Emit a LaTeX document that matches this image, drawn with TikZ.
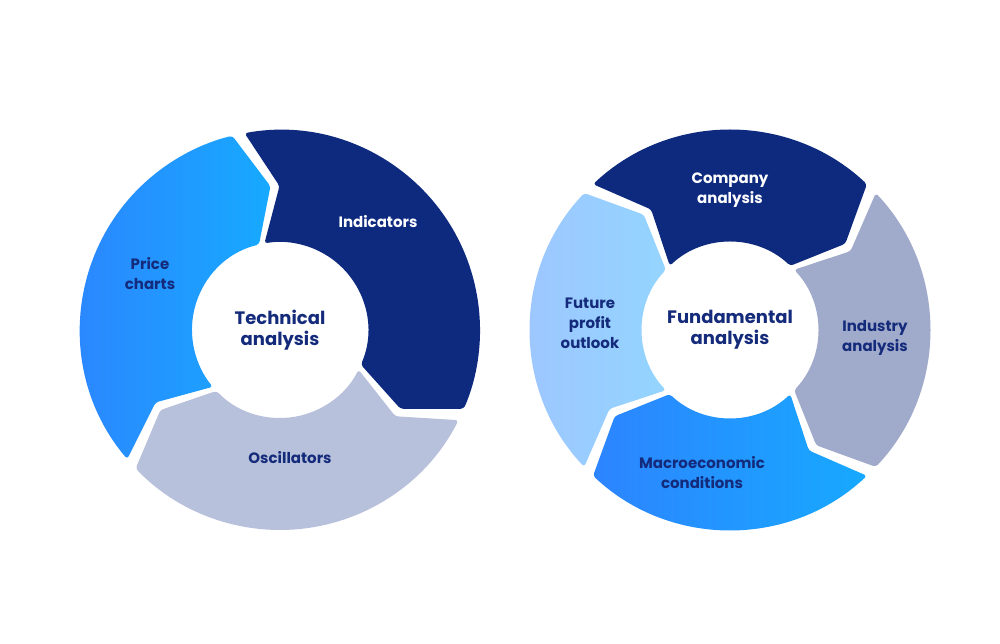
\documentclass[tikz,border=0pt]{standalone}
\usepackage{fontspec}
\setmainfont{Poppins}
\definecolor{navy}{HTML}{0D2A7F}
\definecolor{inkBlue}{HTML}{142A7A}
\definecolor{greyBlue}{HTML}{B8C1DB}
\definecolor{slateBlue}{HTML}{A0AACB}
\definecolor{skyA}{HTML}{2D84FF}
\definecolor{skyB}{HTML}{17A9FF}
\definecolor{paleA}{HTML}{9FC5FF}
\definecolor{paleB}{HTML}{93D5FF}
\tikzset{
  seglabel/.style={font=\bfseries\fontsize{15}{20}\selectfont,align=center,text=inkBlue},
  hublabel/.style={font=\bfseries\fontsize{18}{21}\selectfont,align=center,text=inkBlue}
}
% one ring piece: centre, start angle, end angle (clockwise)
\newcommand\ringpiece[4]{%
  \pgfmathsetmacro\aS{#2-\gapA}
  \pgfmathsetmacro\aE{#3+\gapA}
  \pgfmathsetmacro\aT{\aE-\tipA}
  \pgfmathsetmacro\aN{\aS-\tipA}
  \path[#4,rounded corners=3pt,shift={#1}]
    (\aS:\rOut) arc[start angle=\aS,end angle=\aE,radius=\rOut]
    -- (\aT:\rMid) -- (\aE:\rIn)
    arc[start angle=\aE,end angle=\aS,radius=\rIn]
    -- (\aN:\rMid) -- cycle;
}
\begin{document}
\begin{tikzpicture}[x=1pt,y=1pt]
  \useasboundingbox (0,0) rectangle (1000,644);
  \def\rOut{200}
  \def\rIn{88}
  \def\rMid{144}
  \def\gapA{1.8}
  \def\tipA{10}

  % technical ring
  \coordinate (tech) at (280,314);
  \ringpiece{(tech)}{102}{-25}{fill=navy}
  \ringpiece{(tech)}{-25}{-138}{fill=greyBlue}
  \ringpiece{(tech)}{222}{102}{left color=skyA,right color=skyB}
  \node[hublabel] (techhub) at (tech) {Technical\\analysis};
  \node[seglabel,text=white] (indic) at (378,422) {Indicators};
  \node[seglabel] (price) at (150,370) {Price\\charts};
  \node[seglabel] (oscil) at (290,186) {Oscillators};

  % fundamental ring
  \coordinate (fund) at (730,314);
  \ringpiece{(fund)}{135}{45}{fill=navy}
  \ringpiece{(fund)}{45}{-45}{fill=slateBlue}
  \ringpiece{(fund)}{-45}{-135}{left color=skyA,right color=skyB}
  \ringpiece{(fund)}{225}{135}{left color=paleA,right color=paleB}
  \node[hublabel] (fundhub) at (fund) {Fundamental\\analysis};
  \node[seglabel,text=white] (company) at (730,454) {Company\\analysis};
  \node[seglabel] (industry) at (875,306) {Industry\\analysis};
  \node[seglabel] (macro) at (702,171) {Macroeconomic\\conditions};
  \node[seglabel] (future) at (590,321) {Future\\profit\\outlook};
\end{tikzpicture}
\end{document}
